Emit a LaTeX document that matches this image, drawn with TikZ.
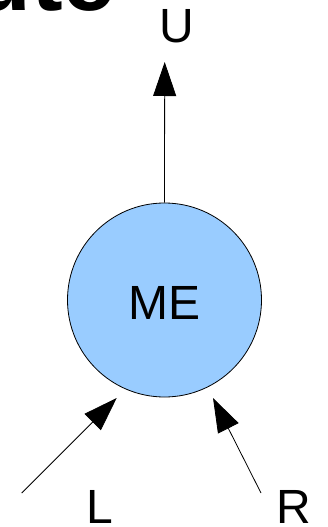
\documentclass[tikz,border=0pt]{standalone}
\usepackage{fontspec}
\setmainfont{Liberation Sans}
\usetikzlibrary{arrows.meta}
\definecolor{meblue}{RGB}{153,204,255}
\begin{document}
\begin{tikzpicture}[x=1pt,y=-1pt,
  lbl/.style={inner sep=0pt,font=\fontsize{48}{58}\selectfont},
  arr/.style={draw=black,line width=0.8pt,-{Triangle[length=34pt,width=23pt]}},
  mecircle/.style={circle,draw=black,line width=0.8pt,fill=meblue,minimum size=194pt,inner sep=0pt,font=\fontsize{48}{58}\selectfont}]
\useasboundingbox (0,0) rectangle (327,527);
\clip (0,0) rectangle (327,527);
\fill[white] (0,0) rectangle (327,527);
\node[inner sep=0pt,anchor=base east,font=\fontsize{95}{110}\bfseries\selectfont] (title) at (116,11) {ute};
\node[mecircle] (me) at (164.5,300) {};
\node[lbl,anchor=base] (metext) at (164.5,319) {ME};
\node[lbl,anchor=base] (U) at (177,43) {U};
\node[lbl,anchor=base west] (L) at (86.5,523) {L};
\node[lbl,anchor=base west] (R) at (276,523) {R};
\coordinate (utip) at (164.7,62);
\coordinate (lstart) at (21.7,493);
\coordinate (ltip) at (116.7,398);
\coordinate (rstart) at (261,493);
\coordinate (rtip) at (213,398);
\draw[arr] (me.north) -- (utip);
\draw[arr] (lstart) -- (ltip);
\draw[arr] (rstart) -- (rtip);
\end{tikzpicture}
\end{document}
